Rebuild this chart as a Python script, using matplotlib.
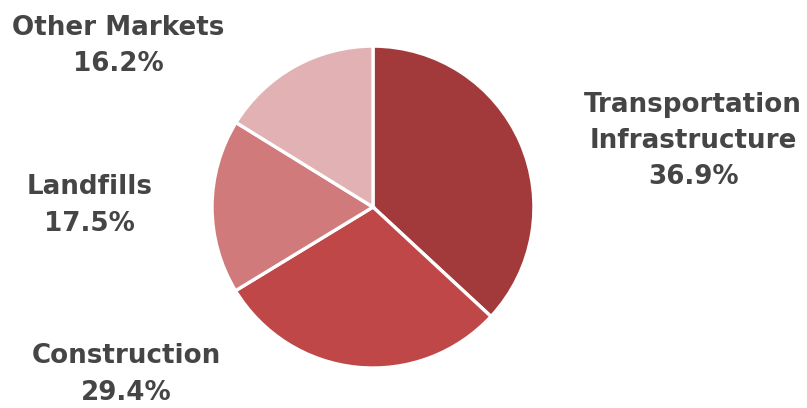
import matplotlib.pyplot as plt

# market share by segment
labels = ['Transportation\nInfrastructure', 'Construction', 'Landfills', 'Other Markets']
shares = [36.9, 29.4, 17.5, 16.2]
colors = ['#a23a3b', '#bf4748', '#d07a7b', '#e2b1b3']

# label block centres, in pie-radius units
label_pos = [(1.99, 0.41), (-1.53, -1.04), (-1.76, 0.01), (-1.58, 1.0)]

fig = plt.figure(figsize=(8.07, 4.08), dpi=100)
ax = fig.add_axes([0.2627, 0.098, 0.399, 0.789])

ax.pie(shares, colors=colors, startangle=90, counterclock=False, radius=1,
       wedgeprops=dict(edgecolor='white', linewidth=2.4))
ax.set_xlim(-1, 1)
ax.set_ylim(-1, 1)
ax.set_aspect('equal')

for lab, val, (x, y) in zip(labels, shares, label_pos):
    ax.text(x, y, f'{lab}\n{val}%', ha='center', va='center', fontsize=18.8,
            fontweight='bold', color='#454545', family='DejaVu Sans',
            linespacing=1.52, clip_on=False)

fig.savefig('out.png', dpi=100)
